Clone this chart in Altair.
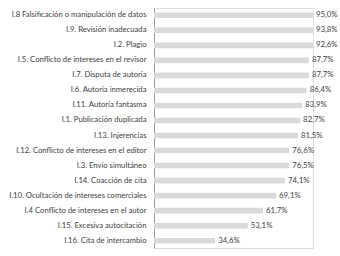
import altair as alt
import pandas as pd

# Share of respondents per integrity issue (percent)
categories = [
    "I.8 Falsificación o manipulación de datos",
    "I.9. Revisión inadecuada",
    "I.2. Plagio",
    "I.5. Conflicto de intereses en el revisor",
    "I.7. Disputa de autoría",
    "I.6. Autoría inmerecida",
    "I.11. Autoría fantasma",
    "I.1. Publicación duplicada",
    "I.13. Injerencias",
    "I.12. Conflicto de intereses en el editor",
    "I.3. Envío simultáneo",
    "I.14. Coacción de cita",
    "I.10. Ocultación de intereses comerciales",
    "I.4 Conflicto de intereses en el autor",
    "I.15. Excesiva autocitación",
    "I.16. Cita de intercambio",
]
values = [95.0, 93.8, 92.6, 87.7, 87.7, 86.4, 83.9, 82.7, 81.5,
          76.6, 76.5, 74.1, 69.1, 61.7, 53.1, 34.6]

AXIS_MAX = 90

df = pd.DataFrame({"item": categories, "pct": values})

FONT = "Lato"
TEXT = "#404040"

y = alt.Y("item:N", sort=categories, title=None,
          scale=alt.Scale(paddingInner=0.63, paddingOuter=0.3),
          axis=alt.Axis(domainColor="#9a9a9a", domainWidth=1, ticks=False,
                        labelPadding=8, labelFont=FONT, labelFontSize=7.7,
                        labelColor=TEXT, labelLimit=200))

xs = alt.Scale(domain=[0, AXIS_MAX], nice=False)

bars = alt.Chart(df).mark_bar(color="#d9d9d9", clip=True).encode(
    x=alt.X("pct:Q", scale=xs, axis=None),
    y=y,
)

labels = alt.Chart(df).transform_calculate(
    pos=f"min(datum.pct, {AXIS_MAX})",
    txt="replace(format(datum.pct, '.1f'), '.', ',') + '%'",
).mark_text(align="left", baseline="middle", dx=3, font=FONT,
            fontSize=7.8, color=TEXT).encode(
    x=alt.X("pos:Q", scale=xs, axis=None),
    y=alt.Y("item:N", sort=categories),
    text="txt:N",
)

chart = (bars + labels).properties(
    width=159, height=240,
    autosize=alt.AutoSizeParams(type="none"),
    padding={"left": 154, "top": 8, "right": 27, "bottom": 8},
).configure_view(stroke=None).configure(background="white")

chart.save("out.html", embed_options={"renderer": "svg", "actions": False})
